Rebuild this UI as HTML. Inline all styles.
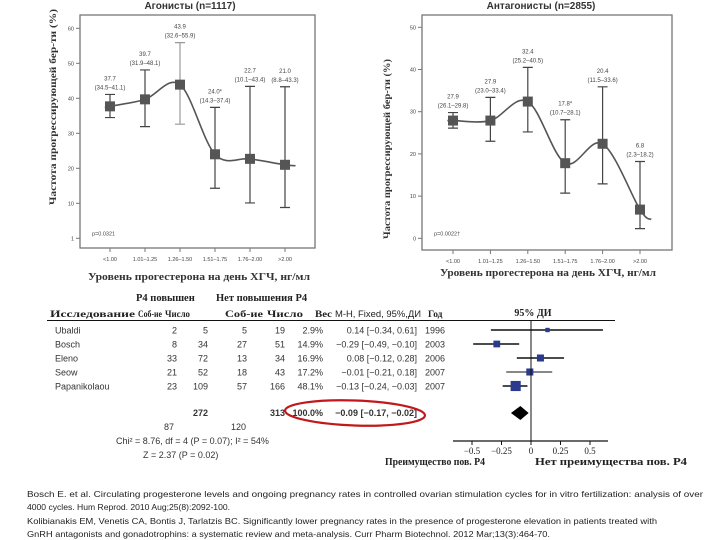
<!DOCTYPE html>
<html><head><meta charset="utf-8"><style>
body{margin:0;background:#fff;}
svg{display:block;font-family:"Liberation Sans",sans-serif;}
.ser{font-family:"Liberation Serif","DejaVu Serif",serif;font-weight:bold;}
</style></head><body>
<svg id="s" width="720" height="540" viewBox="0 0 720 540">
<rect width="720" height="540" fill="#fff"/>
<g id="left"></g>
<g id="right"></g>
<g id="forest"></g>
<g font-size="8.2" fill="#222">
<text x="27" y="497" textLength="676" lengthAdjust="spacingAndGlyphs">Bosch E. et al. Circulating progesterone levels and ongoing pregnancy rates in controlled ovarian stimulation cycles for in vitro fertilization: analysis of over</text>
<text x="27" y="510" textLength="203" lengthAdjust="spacingAndGlyphs">4000 cycles. Hum Reprod. 2010 Aug;25(8):2092-100.</text>
<text x="27" y="524" textLength="630" lengthAdjust="spacingAndGlyphs">Kolibianakis EM, Venetis CA, Bontis J, Tarlatzis BC. Significantly lower pregnancy rates in the presence of progesterone elevation in patients treated with</text>
<text x="27" y="537" textLength="523" lengthAdjust="spacingAndGlyphs">GnRH antagonists and gonadotrophins: a systematic review and meta-analysis. Curr Pharm Biotechnol. 2012 Mar;13(3):464-70.</text>
</g>
</svg>
<script>
const NS="http://www.w3.org/2000/svg";
const cats=["<1.00","1.01–1.25","1.26–1.50","1.51–1.75","1.76–2.00",">2.00"];
const agoVal=[37.7,39.7,43.9,24.0,22.7,21.0];
const agoLo=[34.5,31.9,32.6,14.3,10.1,8.8];
const agoHi=[41.1,48.1,55.9,37.4,43.4,43.3];
const agoLab=["37.7","39.7","43.9","24.0*","22.7","21.0"];
const agoCI=["(34.5–41.1)","(31.9–48.1)","(32.6–55.9)","(14.3–37.4)","(10.1–43.4)","(8.8–43.3)"];
const agoTicks=[0,10,20,30,40,50,60];
const agoTickLab=["1","10","20","30","40","50","60"];
const antVal=[27.9,27.9,32.4,17.8,22.4,6.8];
const antLo=[26.1,23.0,25.2,10.7,12.9,2.3];
const antHi=[29.8,33.4,40.5,28.1,35.9,18.2];
const antLab=["27.9","27.9","32.4","17.8*","20.4","6.8"];
const antCI=["(26.1–29.8)","(23.0–33.4)","(25.2–40.5)","(10.7–28.1)","(11.5–33.6)","(2.3–18.2)"];
const antTicks=[0,10,20,30,40,50];

const studies=["Ubaldi","Bosch","Eleno","Seow","Papanikolaou"];
const evE=[2,8,33,21,23];
const totE=[5,34,72,52,109];
const evN=[5,27,13,18,57];
const totN=[19,51,34,43,166];
const weights=[2.9,14.9,16.9,17.2,48.1];
const est=[0.14,-0.29,0.08,-0.01,-0.13];
const ciLo=[-0.34,-0.49,-0.12,-0.21,-0.24];
const ciHi=[0.61,-0.10,0.28,0.18,-0.03];
const years=[1996,2003,2006,2007,2007];
const pooled=[-0.09,-0.17,-0.02];
const fTicks=[-0.5,-0.25,0,0.25,0.5];

function el(p,t,a,txt){const e=document.createElementNS(NS,t);for(const k in a)e.setAttribute(k,a[k]);if(txt!==undefined)e.textContent=txt;p.appendChild(e);return e;}
function catmull(pts){let d="M"+pts[0][0]+","+pts[0][1];for(let i=0;i<pts.length-1;i++){const p0=pts[i-1]||pts[i],p1=pts[i],p2=pts[i+1],p3=pts[i+2]||p2;d+=" C"+(p1[0]+(p2[0]-p0[0])/6)+","+(p1[1]+(p2[1]-p0[1])/6)+" "+(p2[0]-(p3[0]-p1[0])/6)+","+(p2[1]-(p3[1]-p1[1])/6)+" "+p2[0]+","+p2[1];}return d;}

function lineChart(g,o){
  const y=v=>o.y0-(v-0)*(o.y0-o.yTop)/(o.vTop);
  const x=i=>o.x0+i*o.dx;
  let e=el(g,"rect",{x:o.fx,y:o.fy,width:o.fw,height:o.fh,fill:"none",stroke:"#777","stroke-width":1.3});
  
  
  e=el(g,"text",{x:o.tx,y:9,"text-anchor":"middle","font-size":10,"font-weight":"bold",fill:"#333"},o.title);
  
  
  o.ticks.forEach((t,i)=>{
    e=el(g,"line",{x1:o.fx-4,x2:o.fx,y1:y(t),y2:y(t),stroke:"#777"});
    
    
    e=el(g,"text",{x:o.fx-6,y:y(t)+2,"text-anchor":"end","font-size":5.5,fill:"#444"},o.tickLab[i]);
    
    
  });
  cats.forEach((c,i)=>{
    e=el(g,"line",{x1:x(i),x2:x(i),y1:o.fy+o.fh,y2:o.fy+o.fh+4,stroke:"#777"});
    
    
    e=el(g,"text",{x:x(i),y:o.fy+o.fh+13,"text-anchor":"middle","font-size":5.5,fill:"#444"},c);
    
    
  });
  const pts=o.val.map((v,i)=>[x(i),y(v)]);
  const ext=[[x(-0.15),y(o.val[0]-(o.val[1]-o.val[0])*0.15)]].concat(pts,[[x(5.3),y(o.val[5]+(o.val[5]-o.val[4])*0.15)]]);
  e=el(g,"path",{d:catmull(ext),fill:"none",stroke:"#555","stroke-width":1.6});
  
  
  o.val.forEach((v,i)=>{
    e=el(g,"path",{d:`M${x(i)},${y(o.lo[i])}V${y(o.hi[i])}M${x(i)-5},${y(o.lo[i])}h10M${x(i)-5},${y(o.hi[i])}h10`,stroke:i==2&&o.grayMid?"#999":"#444","stroke-width":1.2,fill:"none"});
    
    
    e=el(g,"rect",{x:x(i)-5,y:y(v)-5,width:10,height:10,fill:"#555"});
    
    
    const ly=Math.min(y(o.hi[i]),y(v)-8);
    e=el(g,"text",{x:x(i),y:ly-14,"text-anchor":"middle","font-size":6,fill:"#444"},o.lab[i]);
    
    
    e=el(g,"text",{x:x(i),y:ly-5,"text-anchor":"middle","font-size":6,fill:"#444"},o.ci[i]);
    
    
  });
  e=el(g,"text",{x:o.fx+12,y:o.y0-3,"font-size":5.5,fill:"#444"},o.p);
  
  
  e=el(g,"text",{x:o.xtx,y:o.xty,"text-anchor":"middle","font-size":11,"class":"ser",fill:"#333",textLength:o.xtl,lengthAdjust:"spacingAndGlyphs"},"Уровень прогестерона на день ХГЧ, нг/мл");
  
  
  e=el(g,"text",{transform:`translate(${o.ytx},${o.yty}) rotate(-90)`,"text-anchor":"middle","font-size":9.5,"class":"ser",fill:"#333",textLength:o.ytl,lengthAdjust:"spacingAndGlyphs"},o.ytitle);
  
  
}
lineChart(document.getElementById("left"),{fx:80,fy:15,fw:235,fh:233,x0:110,dx:35,y0:238.3,yTop:28.3,vTop:60,ticks:agoTicks,tickLab:agoTickLab,
 val:agoVal,lo:agoLo,hi:agoHi,lab:agoLab,ci:agoCI,title:"Агонисты (n=1117)",tx:190,p:"p=0.0321",xtx:199,xty:280,xtl:222,ytx:56,yty:107,ytl:196,
 ytitle:"Частота прогрессирующей бер-ти (%)",grayMid:true});
lineChart(document.getElementById("right"),{fx:422,fy:15,fw:250,fh:235,x0:453,dx:37.4,y0:238.3,yTop:27.3,vTop:50,ticks:antTicks,tickLab:antTicks.map(String),
 val:antVal,lo:antLo,hi:antHi,lab:antLab,ci:antCI,title:"Антагонисты (n=2855)",tx:541,p:"p=0.0022†",xtx:548,xty:276,xtl:216,ytx:390,yty:149,ytl:180,
 ytitle:"Частота прогрессирующей бер-ти (%)"});

// forest
const F=document.getElementById("forest");
const fx=v=>531+v*118;
const rowY=[330,344,358,372,386];
let e;
e=el(F,"text",{x:136,y:301,"font-size":10.5,"class":"ser",fill:"#222"},"P4 повышен");


e=el(F,"text",{x:216,y:301,"font-size":10.5,"class":"ser",fill:"#222"},"Нет повышения P4");


const heads=[["Исследование",50,85],["Соб-ие",138,24],["Число",165,25],["Соб-ие",225,38],["Число",267,36],["Вес",315,17]];
heads.forEach(h=>{e=el(F,"text",{x:h[1],y:317,"font-size":9.5,"class":"ser",fill:"#222",textLength:h[2],lengthAdjust:"spacingAndGlyphs"},h[0]);

});
e=el(F,"text",{x:335,y:317,"font-size":9,fill:"#222",textLength:86,lengthAdjust:"spacingAndGlyphs"},"M-H, Fixed, 95%,ДИ");


e=el(F,"text",{x:428,y:317,"font-size":9.5,"class":"ser",fill:"#222"},"Год");


e=el(F,"text",{x:533,y:316,"text-anchor":"middle","font-size":10,"class":"ser",fill:"#222"},"95% ДИ");


e=el(F,"line",{x1:47,x2:615,y1:320.5,y2:320.5,stroke:"#111"});


const f2=v=>(v<0?"−":"")+Math.abs(v).toFixed(2);
studies.forEach((s,i)=>{
  const y=rowY[i]+3.5;const a={"font-size":9,fill:"#333"};
  const cells=[[s,55,"start"],[evE[i],177,"end"],[totE[i],208,"end"],[evN[i],247,"end"],[totN[i],285,"end"],[weights[i].toFixed(1)+"%",323,"end"],
    [f2(est[i])+" ["+f2(ciLo[i])+", "+f2(ciHi[i])+"]",417,"end"],[years[i],425,"start"]];
  cells.forEach(c=>{e=el(F,"text",Object.assign({x:c[1],y:y,"text-anchor":c[2]},a),String(c[0]));
  
  });
  e=el(F,"line",{x1:fx(ciLo[i]),x2:fx(ciHi[i]),y1:rowY[i],y2:rowY[i],stroke:"#111","stroke-width":i==3?1:1.6});
  
  
  const sz=2.5+Math.sqrt(weights[i])*1.1;
  e=el(F,"rect",{x:fx(est[i])-sz/2,y:rowY[i]-sz/2,width:sz,height:sz,fill:"#2a3a8c"});
  
  
});
const totA={"font-size":9,"font-weight":"bold",fill:"#333"};
[["272",208],["313",285],["100.0%",323]].forEach(c=>{e=el(F,"text",Object.assign({x:c[1],y:416,"text-anchor":"end"},totA),c[0]);

});
e=el(F,"text",Object.assign({x:417,y:416,"text-anchor":"end"},totA),f2(pooled[0])+" ["+f2(pooled[1])+", "+f2(pooled[2])+"]");


e=el(F,"text",{x:174,y:430,"text-anchor":"end","font-size":9,fill:"#333"},"87");


e=el(F,"text",{x:246,y:430,"text-anchor":"end","font-size":9,fill:"#333"},"120");


e=el(F,"text",{x:116,y:444,"font-size":9,fill:"#333"},"Chi² = 8.76, df = 4 (P = 0.07); I² = 54%");


e=el(F,"text",{x:143,y:458,"font-size":9,fill:"#333"},"Z = 2.37 (P = 0.02)");


e=el(F,"ellipse",{cx:355,cy:413,rx:70,ry:12.5,fill:"none",stroke:"#c0181b","stroke-width":2.2,transform:"rotate(2 355 413)"});


const dy=413;
e=el(F,"path",{d:`M${fx(pooled[1])},${dy}L${fx(pooled[0])},${dy-7}L${fx(pooled[2])},${dy}L${fx(pooled[0])},${dy+7}Z`,fill:"#000"});


e=el(F,"line",{x1:fx(0),x2:fx(0),y1:320,y2:441,stroke:"#111"});


e=el(F,"line",{x1:453,x2:608,y1:441,y2:441,stroke:"#111","stroke-width":1.3});


fTicks.forEach(t=>{
  e=el(F,"line",{x1:fx(t),x2:fx(t),y1:441,y2:445,stroke:"#111"});
  
  
  e=el(F,"text",{x:fx(t),y:454,"text-anchor":"middle","font-size":9,fill:"#222","font-family":"Liberation Serif,serif"},(t<0?"−":"")+Math.abs(t));
  
  
});
e=el(F,"text",{x:385,y:465,"font-size":10,"class":"ser",fill:"#222",textLength:100,lengthAdjust:"spacingAndGlyphs"},"Преимущество пов. P4");


e=el(F,"text",{x:535,y:465,"font-size":10,"class":"ser",fill:"#222",textLength:152,lengthAdjust:"spacingAndGlyphs"},"Нет преимущества пов. P4");


</script>
</body></html>
